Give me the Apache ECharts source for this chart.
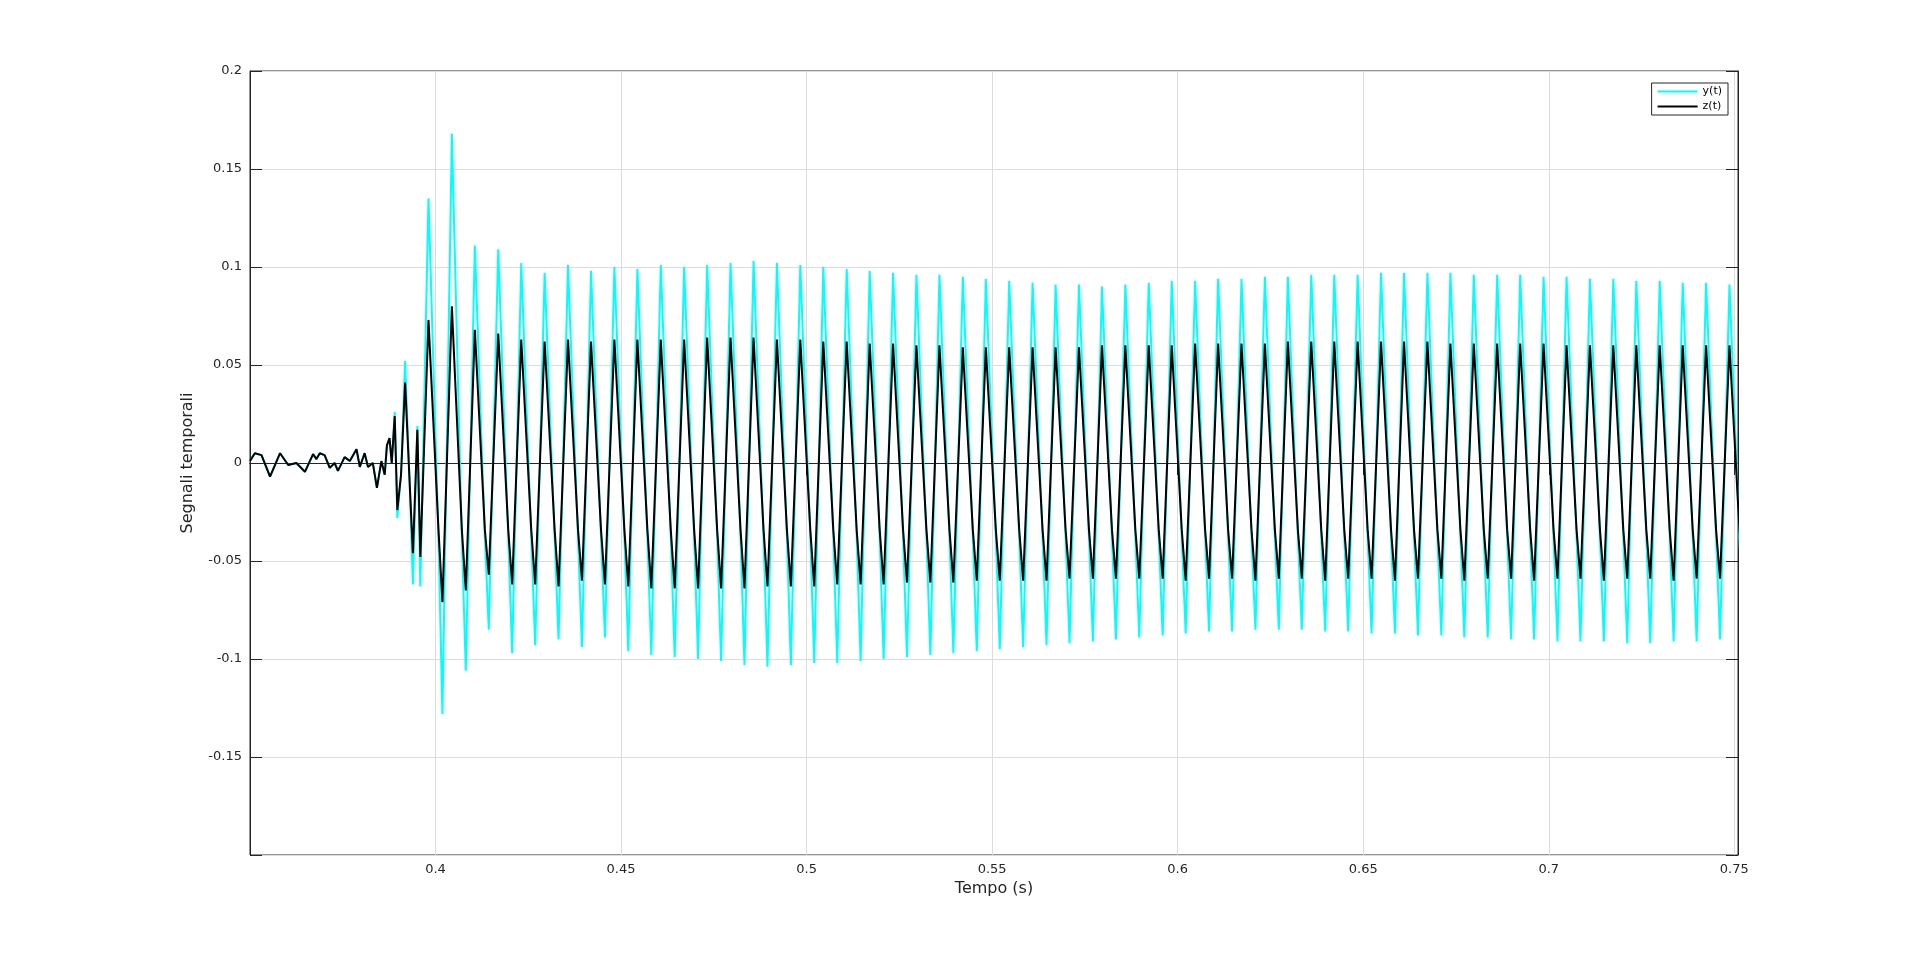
<!DOCTYPE html>
<html><head><meta charset="utf-8">
<script src="https://cdn.jsdelivr.net/npm/echarts@6/dist/echarts.min.js"></script>
<style>html,body{margin:0;padding:0;background:#fff}#c{width:1920px;height:961px}</style>
</head><body><div id="c"></div>
<script>
// early (pre-oscillation) samples: [t, z, y]
const preT = [0.35,0.3513,0.3531,0.3554,0.3581,0.3603,0.3625,0.3648,0.367,0.3679,0.3688,0.3701,0.3715,0.3728,0.3737,0.3755,0.3769,0.3787,0.3796,0.3809,0.3818,0.3831,0.3842,0.3854,0.3863,0.3869,0.3876,0.3882,0.3890,0.3897,0.3907,0.3912,0.3918,0.3930,0.3939,0.3951,0.3959];
const preZ = [0.001,0.005,0.004,-0.007,0.005,-0.001,0,-0.0045,0.0045,0.002,0.005,0.004,-0.0025,0,-0.004,0.003,0.001,0.007,-0.002,0.005,-0.002,0,-0.0127,0.001,-0.006,0.009,0.0127,0,0.024,-0.024,-0.006,-0.005,0.041,-0.009,-0.046,0.017,-0.048];
const preY = [0.001,0.005,0.004,-0.007,0.005,-0.001,0,-0.0045,0.0045,0.002,0.005,0.004,-0.0025,0,-0.004,0.003,0.001,0.007,-0.002,0.005,-0.002,0,-0.0127,0.001,-0.006,0.009,0.0127,0,0.026,-0.028,-0.006,-0.005,0.052,-0.009,-0.062,0.019,-0.063];
// oscillation: peak times and per-cycle extremes
const peakT = [0.3981,0.4044,0.4106,0.4169,0.4231,0.4294,0.4357,0.4419,0.4482,0.4544,0.4607,0.4670,0.4732,0.4795,0.4857,0.4920,0.4983,0.5045,0.5108,0.5170,0.5233,0.5296,0.5358,0.5421,0.5483,0.5546,0.5609,0.5671,0.5734,0.5796,0.5859,0.5922,0.5984,0.6047,0.6109,0.6172,0.6235,0.6297,0.6360,0.6422,0.6485,0.6548,0.6610,0.6673,0.6735,0.6798,0.6861,0.6923,0.6986,0.7048,0.7111,0.7174,0.7236,0.7299,0.7361,0.7424,0.7487];
const yPeak = [0.135,0.168,0.111,0.109,0.102,0.097,0.101,0.098,0.100,0.099,0.101,0.100,0.101,0.102,0.103,0.102,0.101,0.100,0.099,0.098,0.097,0.096,0.096,0.095,0.094,0.093,0.092,0.091,0.091,0.090,0.091,0.092,0.093,0.093,0.094,0.094,0.095,0.095,0.096,0.096,0.096,0.097,0.097,0.097,0.097,0.096,0.096,0.096,0.095,0.095,0.094,0.094,0.093,0.093,0.092,0.092,0.091];
const yTrough = [-0.128,-0.106,-0.085,-0.097,-0.093,-0.090,-0.094,-0.089,-0.096,-0.098,-0.099,-0.100,-0.101,-0.103,-0.104,-0.103,-0.102,-0.102,-0.101,-0.100,-0.099,-0.098,-0.097,-0.096,-0.095,-0.094,-0.093,-0.092,-0.091,-0.090,-0.089,-0.088,-0.087,-0.086,-0.086,-0.085,-0.085,-0.085,-0.086,-0.086,-0.087,-0.087,-0.088,-0.088,-0.089,-0.089,-0.090,-0.090,-0.091,-0.091,-0.091,-0.092,-0.092,-0.091,-0.091,-0.090,-0.090];
const zPeak = [0.073,0.080,0.068,0.066,0.063,0.062,0.063,0.062,0.063,0.063,0.063,0.063,0.064,0.064,0.064,0.063,0.063,0.062,0.062,0.061,0.061,0.060,0.060,0.059,0.059,0.059,0.059,0.059,0.059,0.060,0.060,0.060,0.060,0.061,0.061,0.061,0.061,0.062,0.062,0.062,0.062,0.062,0.062,0.062,0.061,0.061,0.061,0.061,0.061,0.060,0.060,0.060,0.060,0.060,0.060,0.060,0.060];
const zTrough = [-0.071,-0.065,-0.057,-0.062,-0.062,-0.063,-0.060,-0.062,-0.063,-0.064,-0.064,-0.064,-0.064,-0.064,-0.063,-0.063,-0.063,-0.062,-0.062,-0.062,-0.061,-0.061,-0.061,-0.060,-0.060,-0.060,-0.060,-0.059,-0.059,-0.059,-0.059,-0.059,-0.060,-0.059,-0.059,-0.060,-0.059,-0.059,-0.060,-0.059,-0.059,-0.060,-0.059,-0.059,-0.060,-0.059,-0.059,-0.060,-0.059,-0.059,-0.060,-0.059,-0.059,-0.060,-0.059,-0.059,-0.060];
const yShoulder = -0.038, zShoulder = -0.034;
const period = 0.00626;
const xTicks = [0.4,0.45,0.5,0.55,0.6,0.65,0.7,0.75];
const yTicks = [-0.15,-0.1,-0.05,0,0.05,0.1,0.15,0.2];

function build(pre, pk, tr, sh){
  const d = preT.map((t,i)=>[t,pre[i]]);
  peakT.forEach((t,k)=>{
    d.push([t,pk[k]]);
    d.push([t+0.43*period, sh]);
    d.push([t+0.6*period, tr[k]]);
  });
  return d;
}
const yData = build(preY,yPeak,yTrough,yShoulder);
const zData = build(preZ,zPeak,zTrough,zShoulder);

const fmtX = v => xTicks.some(t=>Math.abs(t-v)<1e-9) ? String(+v.toFixed(2)) : '';
const fmtY = v => yTicks.some(t=>Math.abs(t-v)<1e-9) ? String(+v.toFixed(2)) : '';
const ax = {color:'#262626',width:1};
const chart = echarts.init(document.getElementById('c'));
chart.setOption({
  animation:false,
  textStyle:{fontFamily:'DejaVu Sans'},
  grid:{left:250,right:182,top:71,bottom:106,show:true,borderColor:'#262626',borderWidth:1},
  legend:{right:192,top:83,orient:'vertical',itemWidth:40,itemHeight:2,itemGap:4,
    backgroundColor:'#fff',borderColor:'#262626',borderWidth:1,padding:[3,6,3,6],
    textStyle:{fontSize:11,color:'#000'},
    data:[{name:'y(t)',icon:'rect'},{name:'z(t)',icon:'rect'}]},
  xAxis:[{type:'value',min:0.35,max:0.751,interval:0.05,name:'Tempo (s)',nameLocation:'middle',nameGap:26,
    nameTextStyle:{fontSize:16,color:'#262626'},
    axisLine:{lineStyle:ax},axisTick:{inside:true,length:12,lineStyle:ax},
    axisLabel:{formatter:fmtX,fontSize:13,color:'#262626',margin:8},
    splitLine:{lineStyle:{color:'#dcdcdc'}}},
    {type:'value',position:'top',min:0.35,max:0.751,interval:0.05,axisLine:{lineStyle:ax},
    axisTick:{inside:true,length:12,lineStyle:ax},axisLabel:{show:false},splitLine:{show:false}}],
  yAxis:[{type:'value',min:-0.2,max:0.2,interval:0.05,name:'Segnali temporali',nameLocation:'middle',nameGap:54,
    nameTextStyle:{fontSize:16,color:'#262626'},
    axisLine:{lineStyle:ax},axisTick:{inside:true,length:12,lineStyle:ax},
    axisLabel:{formatter:v=>v<=-0.199?'':fmtY(v),fontSize:13,color:'#262626',margin:8},
    splitLine:{lineStyle:{color:'#dcdcdc'}}},
    {type:'value',position:'right',min:-0.2,max:0.2,interval:0.05,axisLine:{lineStyle:ax},
    axisTick:{inside:true,length:12,lineStyle:ax},axisLabel:{show:false},splitLine:{show:false}}],
  series:[
    {name:'y(t)',type:'line',data:yData,showSymbol:false,clip:true,color:'#00ffff',lineStyle:{color:'#00ffff',width:2},z:2},
    {name:'z(t)',type:'line',data:zData,showSymbol:false,clip:true,color:'#000',lineStyle:{color:'#000',width:2},z:3}
  ]
});
</script></body></html>
